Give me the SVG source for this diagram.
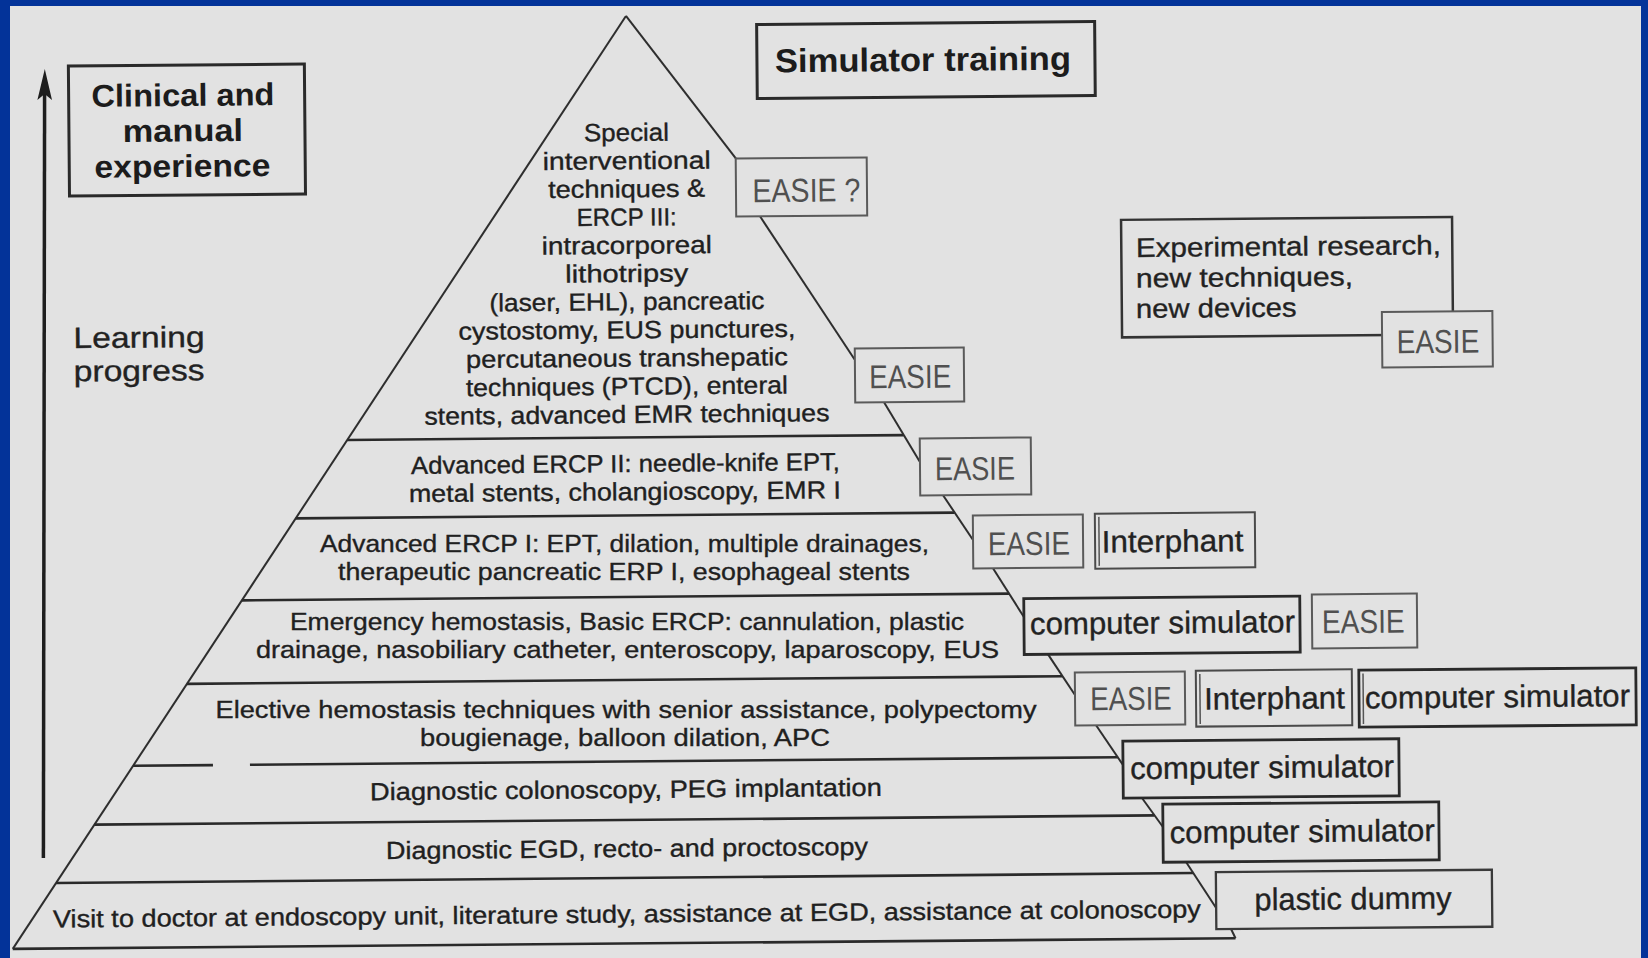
<svg xmlns="http://www.w3.org/2000/svg" width="1648" height="958" viewBox="0 0 1648 958">
<style>
.ln{stroke:#2a2a2a;stroke-width:2.6;fill:none}
.edge{stroke:#2e2e2e;stroke-width:2;fill:none}
.t{font-family:"Liberation Sans",Arial,sans-serif;font-size:24.8px;fill:#202020;stroke:#202020;stroke-width:0.35;text-anchor:middle}
.tl{font-family:"Liberation Sans",Arial,sans-serif;font-size:27px;fill:#222;stroke:#222;stroke-width:0.35}
.tb{font-family:"Liberation Sans",Arial,sans-serif;font-weight:bold;font-size:31.5px;fill:#1c1c1c;text-anchor:middle}
.bt{font-family:"Liberation Sans",Arial,sans-serif;font-size:31px;fill:#222;stroke:#222;stroke-width:0.35;text-anchor:middle}
.e{font-family:"Liberation Sans",Arial,sans-serif;font-size:33px;fill:#505050;text-anchor:middle}
.tbox{fill:#e2e2e2;stroke:#2a2a2a;stroke-width:3}
.ebox{fill:#e2e2e2;stroke:#5a5a5a;stroke-width:2}
.ibox{fill:#e2e2e2;stroke:#4a4a4a;stroke-width:2}
.cbox{fill:#e2e2e2;stroke:#2a2a2a;stroke-width:2.8}
.dbl{stroke:#555;stroke-width:1.5}
</style>
<rect x="0" y="0" width="1648" height="958" fill="#033399"/>
<rect x="10" y="6" width="1631" height="952" fill="#e2e2e2"/>

<g id="progress-arrow">
<line x1="44.6" y1="92" x2="43.4" y2="858" stroke="#1e1e1e" stroke-width="3.5"/>
<path d="M44.8,69 L52,100 L44.6,94 L37.4,100 Z" fill="#1e1e1e"/>
</g>

<g transform="rotate(-0.5 626 480)">

<g id="clinical-box">
<rect class="tbox" x="72" y="61.2" width="236" height="130"/>
<text class="tb" x="186.3" y="102.1" textLength="183" lengthAdjust="spacingAndGlyphs">Clinical and</text>
<text class="tb" x="185.9" y="137.6" textLength="120.5" lengthAdjust="spacingAndGlyphs">manual</text>
<text class="tb" x="185.1" y="173.1" textLength="176" lengthAdjust="spacingAndGlyphs">experience</text>
</g>

<g id="learning-label">
<text class="tl" style="font-size:29.3px" x="74.8" y="343.2" textLength="131" lengthAdjust="spacingAndGlyphs">Learning</text>
<text class="tl" style="font-size:29.3px" x="74.6" y="376.5" textLength="131" lengthAdjust="spacingAndGlyphs">progress</text>
</g>

<g id="simulator-box">
<rect class="tbox" x="760.6" y="25.6" width="338" height="74"/>
<text class="tb" style="font-size:33px" x="926.6" y="73.6" textLength="296" lengthAdjust="spacingAndGlyphs">Simulator training</text>
</g>

<g id="pyramid">
<line class="edge" x1="630" y1="16" x2="8.7" y2="943.5"/>
<line class="ln" x1="347.6" y1="437.5" x2="904" y2="437.5"/>
<line class="ln" x1="295.4" y1="515.5" x2="954.4" y2="515.5"/>
<line class="ln" x1="240.8" y1="597" x2="1008.1" y2="597"/>
<line class="ln" x1="185.2" y1="680" x2="1060.8" y2="680"/>
<line class="ln" x1="130.6" y1="761.5" x2="210.5" y2="761.5"/>
<line class="ln" x1="247.5" y1="761.5" x2="1115.3" y2="761.5"/>
<line class="ln" x1="91.4" y1="820" x2="1151.6" y2="820"/>
<line class="ln" x1="52.6" y1="878" x2="1189.8" y2="878"/>
<line class="ln" x1="8.7" y1="943.5" x2="1231.5" y2="943.5"/>
</g>

<g id="connectors">
<line class="edge" x1="630" y1="16" x2="738.8" y2="159.5"/>
<line class="edge" x1="762.3" y1="217.5" x2="856" y2="362"/>
<line class="edge" x1="884.7" y1="404.5" x2="920.1" y2="464.6"/>
<line class="edge" x1="942.9" y1="498" x2="972.5" y2="543"/>
<line class="edge" x1="992.2" y1="571.5" x2="1022.7" y2="620.5"/>
<line class="edge" x1="1046.5" y1="658" x2="1073.1" y2="698.9"/>
<line class="edge" x1="1093.9" y1="729.4" x2="1120.5" y2="769.3"/>
<line class="edge" x1="1139.2" y1="802.5" x2="1159.9" y2="831.7"/>
<line class="edge" x1="1182.7" y1="866.9" x2="1212.4" y2="913.1"/>
<line class="edge" x1="1227.1" y1="934.3" x2="1231.5" y2="943.5"/>
</g>

<g id="level-special">
<text class="t" x="629.5" y="141" textLength="85" lengthAdjust="spacingAndGlyphs">Special</text>
<text class="t" x="629.4" y="169.2" textLength="168" lengthAdjust="spacingAndGlyphs">interventional</text>
<text class="t" x="629.2" y="197.4" textLength="157" lengthAdjust="spacingAndGlyphs">techniques &amp;</text>
<text class="t" x="629" y="225.6" textLength="100" lengthAdjust="spacingAndGlyphs">ERCP III:</text>
<text class="t" x="628.8" y="253.8" textLength="170" lengthAdjust="spacingAndGlyphs">intracorporeal</text>
<text class="t" x="628.6" y="282" textLength="123" lengthAdjust="spacingAndGlyphs">lithotripsy</text>
<text class="t" x="628.4" y="310.2" textLength="275" lengthAdjust="spacingAndGlyphs">(laser, EHL), pancreatic</text>
<text class="t" x="628.2" y="338.4" textLength="337" lengthAdjust="spacingAndGlyphs">cystostomy, EUS punctures,</text>
<text class="t" x="628" y="366.6" textLength="322" lengthAdjust="spacingAndGlyphs">percutaneous transhepatic</text>
<text class="t" x="627.7" y="394.8" textLength="322" lengthAdjust="spacingAndGlyphs">techniques (PTCD), enteral</text>
<text class="t" x="627.5" y="423" textLength="405" lengthAdjust="spacingAndGlyphs">stents, advanced EMR techniques</text>
</g>

<g id="level-ercp2">
<text class="t" x="625.6" y="472" textLength="429" lengthAdjust="spacingAndGlyphs">Advanced ERCP II: needle-knife EPT,</text>
<text class="t" x="624.8" y="500.2" textLength="432" lengthAdjust="spacingAndGlyphs">metal stents, cholangioscopy, EMR I</text>
</g>

<g id="level-colonoscopy">
<text class="t" x="623.2" y="798" textLength="512" lengthAdjust="spacingAndGlyphs">Diagnostic colonoscopy, PEG implantation</text>
</g>

<g id="level-egd">
<text class="t" x="623.7" y="857" textLength="482" lengthAdjust="spacingAndGlyphs">Diagnostic EGD, recto- and proctoscopy</text>
</g>

<g id="level-visit">
<text class="t" x="623.1" y="922.5" textLength="1148" lengthAdjust="spacingAndGlyphs">Visit to doctor at endoscopy unit, literature study, assistance at EGD, assistance at colonoscopy</text>
</g>

<g id="easie-q">
<rect class="ebox" x="738.5" y="159.5" width="131" height="58"/>
<text class="e" x="808.9" y="203.3" textLength="108" lengthAdjust="spacingAndGlyphs">EASIE ?</text>
</g>
<g id="easie-special">
<rect class="ebox" x="855.9" y="350.5" width="109" height="54"/>
<text class="e" x="911" y="390.5" textLength="82" lengthAdjust="spacingAndGlyphs">EASIE</text>
</g>
<g id="easie-ercp2">
<rect class="ebox" x="920.1" y="441" width="111" height="57"/>
<text class="e" x="975" y="483" textLength="80" lengthAdjust="spacingAndGlyphs">EASIE</text>
</g>
<g id="easie-ercp1">
<rect class="ebox" x="972.5" y="518.5" width="110" height="53"/>
<text class="e" x="1028.3" y="558.5" textLength="82" lengthAdjust="spacingAndGlyphs">EASIE</text>
</g>
<g id="interphant-ercp1">
<rect class="ibox" x="1094.5" y="517.8" width="160" height="55"/>
<line class="dbl" x1="1098.5" y1="521" x2="1098.5" y2="570"/>
<text class="bt" x="1171.9" y="556.6" textLength="141.7" lengthAdjust="spacingAndGlyphs">Interphant</text>
</g>
<g id="cs-emergency">
<rect class="cbox" x="1022.7" y="602" width="276" height="56"/>
<text class="bt" x="1161.2" y="638" textLength="265" lengthAdjust="spacingAndGlyphs">computer simulator</text>
</g>
<g id="easie-emergency">
<rect class="ebox" x="1310.8" y="600.4" width="105" height="54"/>
<text class="e" x="1362" y="639.4" textLength="82.6" lengthAdjust="spacingAndGlyphs">EASIE</text>
</g>
<g id="easie-elective">
<rect class="ebox" x="1073.1" y="676.4" width="110" height="53"/>
<text class="e" x="1129" y="714.4" textLength="81.7" lengthAdjust="spacingAndGlyphs">EASIE</text>
</g>
<g id="interphant-elective">
<rect class="ibox" x="1194.1" y="675.6" width="156" height="56"/>
<line class="dbl" x1="1198.1" y1="679" x2="1198.1" y2="729"/>
<text class="bt" x="1272.5" y="714.6" textLength="140.7" lengthAdjust="spacingAndGlyphs">Interphant</text>
</g>
<g id="cs-elective">
<rect class="cbox" x="1357.1" y="676.6" width="277" height="57"/>
<line class="dbl" x1="1361.3" y1="680" x2="1361.3" y2="730.5"/>
<text class="bt" x="1495.5" y="714.9" textLength="265" lengthAdjust="spacingAndGlyphs">computer simulator</text>
</g>
<g id="cs-colonoscopy">
<rect class="cbox" x="1120.5" y="745.5" width="276" height="57"/>
<text class="bt" x="1259.6" y="783.5" textLength="264" lengthAdjust="spacingAndGlyphs">computer simulator</text>
</g>
<g id="cs-egd">
<rect class="cbox" x="1159.9" y="808.9" width="276" height="58"/>
<text class="bt" x="1299.1" y="847.9" textLength="265" lengthAdjust="spacingAndGlyphs">computer simulator</text>
</g>
<g id="plastic-dummy">
<rect class="ibox" x="1212.4" y="877.3" width="276" height="57" style="stroke:#3a3a3a;stroke-width:2.3"/>
<text class="bt" x="1349.3" y="915.7" textLength="197" lengthAdjust="spacingAndGlyphs">plastic dummy</text>
</g>

<g id="experimental-box">
<rect class="ibox" x="1123.3" y="224.2" width="331" height="117.5" style="stroke:#333;stroke-width:2.5"/>
<text class="tl" x="1137.9" y="261.4" textLength="305" lengthAdjust="spacingAndGlyphs">Experimental research,</text>
<text class="tl" x="1137.7" y="291.9" textLength="217" lengthAdjust="spacingAndGlyphs">new techniques,</text>
<text class="tl" x="1137.4" y="322.4" textLength="160.7" lengthAdjust="spacingAndGlyphs">new devices</text>
</g>
<g id="easie-experimental">
<rect class="ebox" x="1383.3" y="318.5" width="110.5" height="55.5"/>
<text class="e" x="1439.1" y="360.1" textLength="82.7" lengthAdjust="spacingAndGlyphs">EASIE</text>
</g>

</g>

<g id="level-ercp1">
<text class="t" x="624.5" y="552" textLength="609" lengthAdjust="spacingAndGlyphs">Advanced ERCP I: EPT, dilation, multiple drainages,</text>
<text class="t" x="624" y="580.2" textLength="572" lengthAdjust="spacingAndGlyphs">therapeutic pancreatic ERP I, esophageal stents</text>
</g>

<g id="level-emergency">
<text class="t" x="627" y="629.5" textLength="674" lengthAdjust="spacingAndGlyphs">Emergency hemostasis, Basic ERCP: cannulation, plastic</text>
<text class="t" x="627.5" y="657.7" textLength="743" lengthAdjust="spacingAndGlyphs">drainage, nasobiliary catheter, enteroscopy, laparoscopy, EUS</text>
</g>

<g id="level-elective">
<text class="t" x="626" y="717.5" textLength="821" lengthAdjust="spacingAndGlyphs">Elective hemostasis techniques with senior assistance, polypectomy</text>
<text class="t" x="625" y="745.7" textLength="410" lengthAdjust="spacingAndGlyphs">bougienage, balloon dilation, APC</text>
</g>
</svg>
